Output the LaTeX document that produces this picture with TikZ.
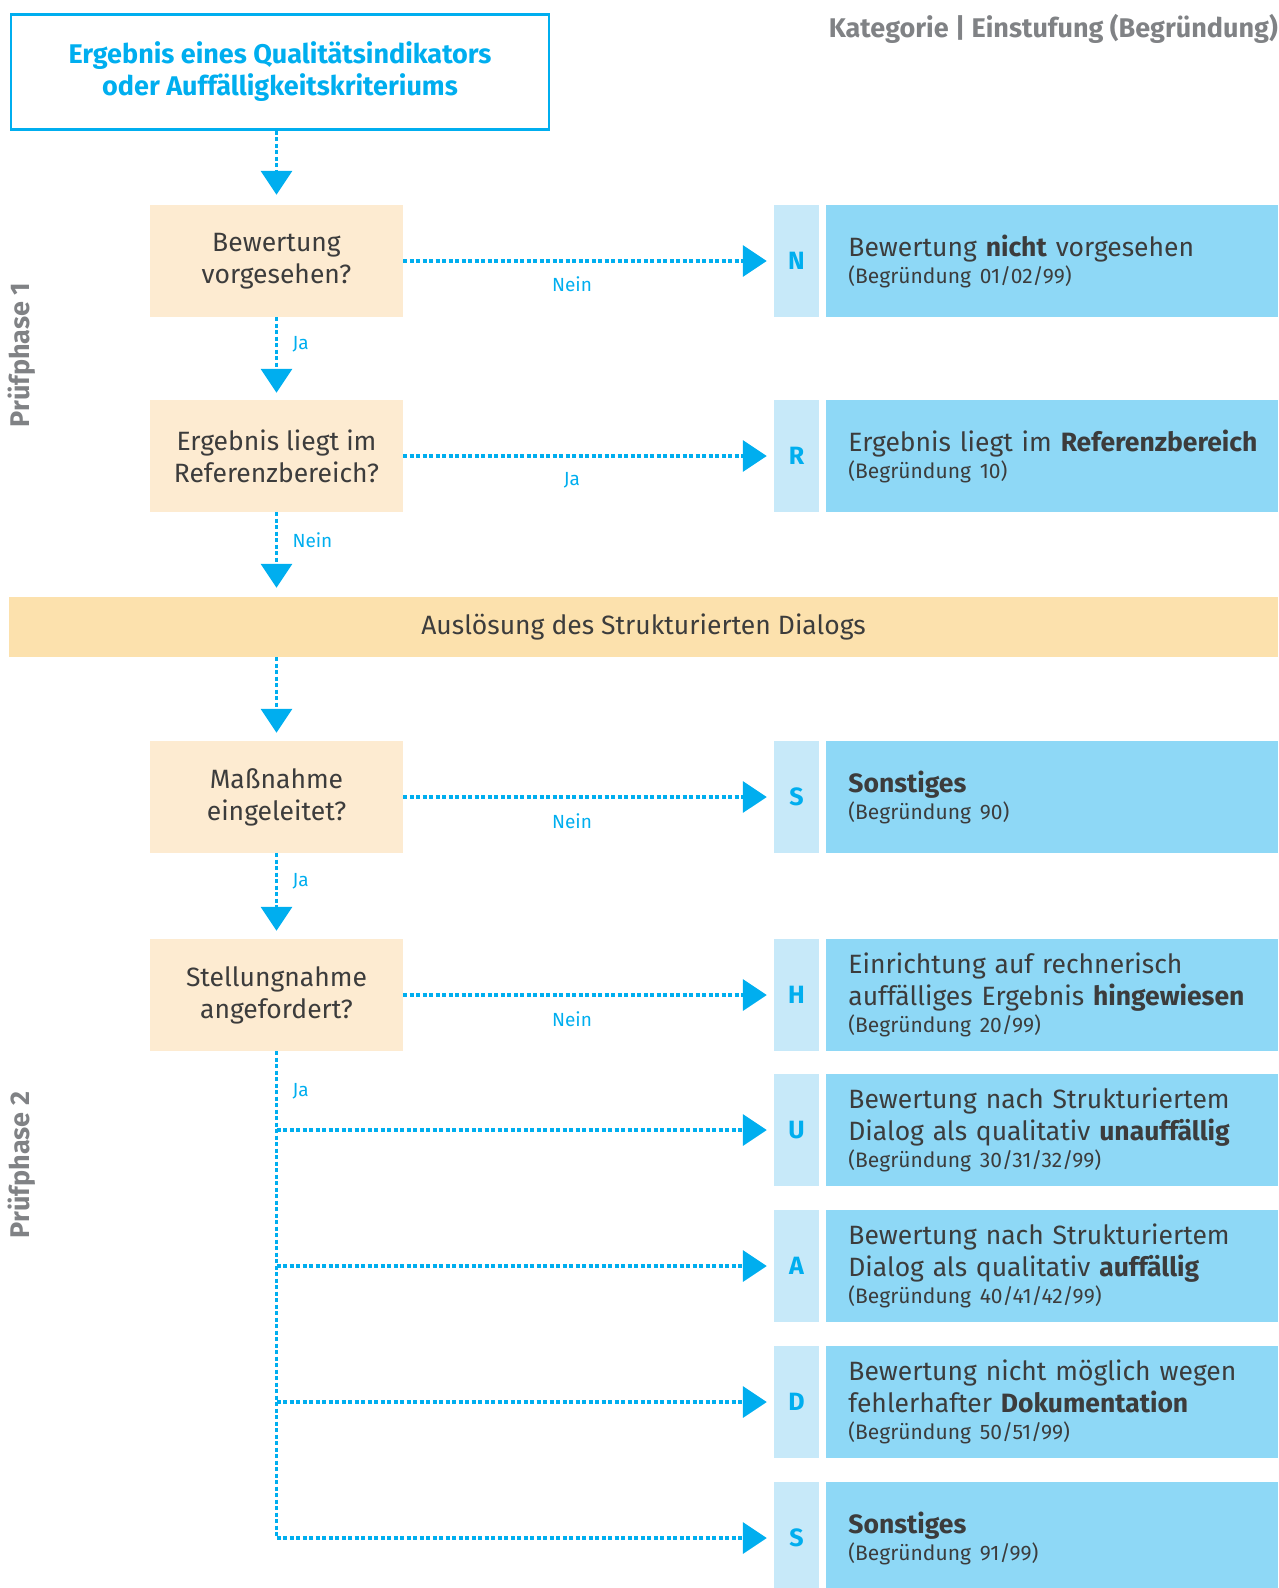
\documentclass[tikz,border=0pt]{standalone}
\usepackage{fontspec}
\setmainfont{Fira Sans}
\usetikzlibrary{shapes.geometric, arrows, arrows.meta, positioning}
\definecolor{qblue}{HTML}{00AEEF}
\definecolor{qtext}{HTML}{3C3C3C}
\definecolor{qgray}{HTML}{808285}
\definecolor{qpeach}{HTML}{FDEBD1}
\definecolor{qband}{HTML}{FCE1AD}
\definecolor{qres}{HTML}{8ED8F6}
\definecolor{qcat}{HTML}{C7E9F9}
\tikzstyle{startstop} = [rectangle, draw=qblue, line width=2.5pt, minimum width=538pt, minimum height=115pt, align=center, text=qblue, font=\fontsize{27}{32}\selectfont\bfseries]
\tikzstyle{decision} = [rectangle, fill=qpeach, minimum width=253pt, minimum height=112pt, align=center, text=qtext, font=\fontsize{26.5}{32}\selectfont]
\tikzstyle{band} = [rectangle, fill=qband, minimum width=1269pt, minimum height=60pt, text=qtext, font=\fontsize{26.5}{32}\selectfont]
\tikzstyle{category} = [rectangle, fill=qcat, minimum width=45pt, minimum height=112pt, text=qblue, font=\fontsize{25}{30}\selectfont\bfseries]
\tikzstyle{result} = [rectangle, fill=qres, minimum width=452pt, minimum height=112pt, inner xsep=22pt, text width=408pt, align=left, text=qtext, font=\fontsize{26.5}{32}\selectfont]
\tikzstyle{arrow} = [qblue, line width=3.5pt, dash pattern=on 4pt off 2.5pt, -{Triangle[length=24pt,width=31pt]}]
\tikzstyle{dotline} = [qblue, line width=3.5pt, dash pattern=on 4pt off 2.5pt]
\tikzstyle{answer} = [text=qblue, font=\fontsize{19}{22}\selectfont]
\tikzstyle{phase} = [text=qgray, rotate=90, font=\fontsize{27}{30}\selectfont\bfseries]
\newcommand{\grund}[1]{\\[-5pt]{\fontsize{21}{24}\selectfont (Begründung #1)}}

\begin{document}
\begin{tikzpicture}[x=1pt, y=-1pt]
\useasboundingbox (0,0) rectangle (1279,1588);

\node (start) [startstop] at (280,72) {Ergebnis eines Qualitätsindikators\\oder Auffälligkeitskriteriums};
\node (legend) [anchor=east, inner sep=0pt, text=qgray, font=\fontsize{27}{32}\selectfont\bfseries] at (1278,29) {Kategorie | Einstufung (Begründung)};
\node (phase1) [phase] at (22,355) {Prüfphase 1};
\node (phase2) [phase] at (22,1165) {Prüfphase 2};

\node (dec1) [decision] at (276.5,261) {Bewertung\\vorgesehen?};
\node (dec2) [decision] at (276.5,456) {Ergebnis liegt im\\Referenzbereich?};
\node (dialog) [band] at (643.5,627) {Auslösung des Strukturierten Dialogs};
\node (dec3) [decision] at (276.5,797) {Maßnahme\\eingeleitet?};
\node (dec4) [decision] at (276.5,995) {Stellungnahme\\angefordert?};

\node (cat1) [category] at (796.5,261) {N};
\node (res1) [result, right=7pt of cat1] {Bewertung \textbf{nicht} vorgesehen\grund{01/02/99}};
\node (cat2) [category] at (796.5,456) {R};
\node (res2) [result, right=7pt of cat2] {\mbox{Ergebnis liegt im \textbf{Referenzbereich}}\grund{10}};
\node (cat3) [category] at (796.5,797) {S};
\node (res3) [result, right=7pt of cat3] {\textbf{Sonstiges}\grund{90}};
\node (cat4) [category] at (796.5,995) {H};
\node (res4) [result, right=7pt of cat4] {Einrichtung auf rechnerisch\\auffälliges Ergebnis \textbf{hingewiesen}\grund{20/99}};
\node (cat5) [category] at (796.5,1130) {U};
\node (res5) [result, right=7pt of cat5] {Bewertung nach Strukturiertem\\Dialog als qualitativ \textbf{unauffällig}\grund{30/31/32/99}};
\node (cat6) [category] at (796.5,1266) {A};
\node (res6) [result, right=7pt of cat6] {Bewertung nach Strukturiertem\\Dialog als qualitativ \textbf{auffällig}\grund{40/41/42/99}};
\node (cat7) [category] at (796.5,1402) {D};
\node (res7) [result, right=7pt of cat7] {Bewertung nicht möglich wegen\\fehlerhafter \textbf{Dokumentation}\grund{50/51/99}};
\node (cat8) [category] at (796.5,1538) {S};
\node (res8) [result, right=7pt of cat8] {\textbf{Sonstiges}\grund{91/99}};

% vertical flow
\draw [arrow, shorten >=10pt] (start.south -| dec1.north) -- (dec1.north);
\draw [arrow, shorten >=7pt] (dec1) -- (dec2);
\draw [arrow, shorten >=9pt] (dec2.south) -- (dec2.south |- dialog.north);
\draw [arrow, shorten >=8pt] (dec2.south |- dialog.south) -- (dec3.north);
\draw [arrow, shorten >=8pt] (dec3) -- (dec4);

% outcomes
\draw [arrow, shorten >=7pt] (dec1.east) -- (cat1.west);
\draw [arrow, shorten >=7pt] (dec2.east) -- (cat2.west);
\draw [arrow, shorten >=7pt] (dec3.east) -- (cat3.west);
\draw [arrow, shorten >=7pt] (dec4.east) -- (cat4.west);

\coordinate (j5) at (dec4.south |- cat5.west);
\coordinate (j6) at (dec4.south |- cat6.west);
\coordinate (j7) at (dec4.south |- cat7.west);
\coordinate (j8) at (dec4.south |- cat8.west);
\draw [dotline] (dec4.south) -- (j8);
\draw [arrow, shorten >=7pt] (j5) -- (cat5.west);
\draw [arrow, shorten >=7pt] (j6) -- (cat6.west);
\draw [arrow, shorten >=7pt] (j7) -- (cat7.west);
\draw [arrow, shorten >=7pt] (j8) -- (cat8.west);

% answers
\node (nein1) [answer] at (572,284) {Nein};
\node (ja1) [answer, anchor=west] at (289,344) {Ja};
\node (ja2) [answer] at (572,480) {Ja};
\node (nein2) [answer, anchor=west] at (289,540) {Nein};
\node (nein3) [answer] at (572,821) {Nein};
\node (ja3) [answer, anchor=west] at (289,881) {Ja};
\node (nein4) [answer] at (572,1019) {Nein};
\node (ja4) [answer, anchor=west] at (289,1091) {Ja};
\end{tikzpicture}
\end{document}
